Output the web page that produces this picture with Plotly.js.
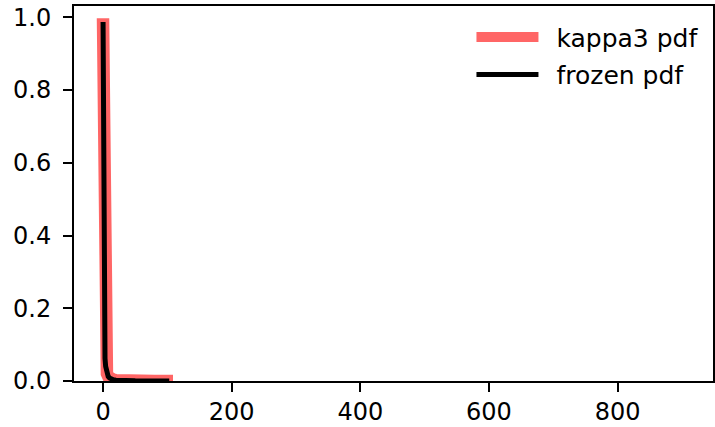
<!DOCTYPE html>
<html>
<head>
<meta charset="utf-8">
<script src="https://cdn.plot.ly/plotly-3.0.1.min.js"></script>
<style>
html, body { margin: 0; padding: 0; background: #fff; }
#chart { width: 715px; height: 427px; }
.scatterlayer .js-line { stroke-linecap: square; }
.legend .legendtext { transform: translate(13px, 0px); }
.legend .scrollbox, .legend { clip-path: none !important; }
</style>
</head>
<body>
<div id="chart"></div>
<script>
// Values (pdf curve of kappa3, a = 1)
const xValues = [0.0101, 1.01, 2.01, 3.01, 4.01, 5.01, 6.01, 8.01, 10.01, 13.0, 16.0, 20.0, 25.0, 30.0, 40.0, 50.0, 60.0, 70.0, 80.0, 90.0, 99.0];
const kappa3Pdf = [0.98, 0.247, 0.110, 0.062, 0.040, 0.028, 0.0204, 0.0123, 0.0083, 0.0051, 0.0035, 0.0023, 0.0015, 0.0010, 0.0006, 0.0004, 0.0003, 0.0002, 0.00015, 0.00012, 0.0001];
const frozenPdf = [0.98, 0.247, 0.110, 0.062, 0.040, 0.028, 0.0204, 0.0123, 0.0083, 0.0051, 0.0035, 0.0023, 0.0015, 0.0010, 0.0006, 0.0004, 0.0003, 0.0002, 0.00015, 0.00012, 0.0001];
const seriesNames = ["kappa3 pdf", "frozen pdf"];
const xTicks = [0, 200, 400, 600, 800];
const yTicks = [0.0, 0.2, 0.4, 0.6, 0.8, 1.0];

const font = { family: "DejaVu Sans", size: 25, color: "#000" };
const tickFont = { family: "DejaVu Sans", size: 24, color: "#000" };

const traces = [
  { x: xValues, y: kappa3Pdf, name: seriesNames[0], mode: "lines", type: "scatter",
    legendgroup: "a",
    line: { color: "rgba(255,0,0,0.6)", width: 12.5 } },
  { x: xValues, y: frozenPdf, name: seriesNames[1], mode: "lines", type: "scatter",
    legendgroup: "b",
    line: { color: "#000", width: 5 } }
];

const axisCommon = {
  showline: true, linecolor: "#000", linewidth: 2, mirror: true,
  ticks: "outside", ticklen: 9, tickwidth: 2, tickcolor: "#000",
  showgrid: false, zeroline: false, tickfont: tickFont, fixedrange: true
};

const layout = {
  width: 715, height: 427,
  margin: { l: 74, r: 2, t: 6, b: 46, pad: 0 },
  paper_bgcolor: "#fff", plot_bgcolor: "#fff",
  font: font,
  showlegend: true,
  legend: {
    x: 0.622, y: 0.978, xanchor: "left", yanchor: "top",
    bgcolor: "rgba(0,0,0,0)", borderwidth: 0,
    font: font, itemwidth: 62, traceorder: "grouped", tracegroupgap: 2
  },
  xaxis: Object.assign({}, axisCommon, {
    range: [-45.2, 948.4], tickvals: xTicks, ticktext: xTicks.map(String),
    ticklabelstandoff: -1
  }),
  yaxis: Object.assign({}, axisCommon, {
    range: [0, 1.031], tickvals: yTicks, ticktext: yTicks.map(v => v.toFixed(1)),
    ticklabelstandoff: 7
  })
};

Plotly.newPlot("chart", traces, layout, { displayModeBar: false, staticPlot: true });
</script>
</body>
</html>
